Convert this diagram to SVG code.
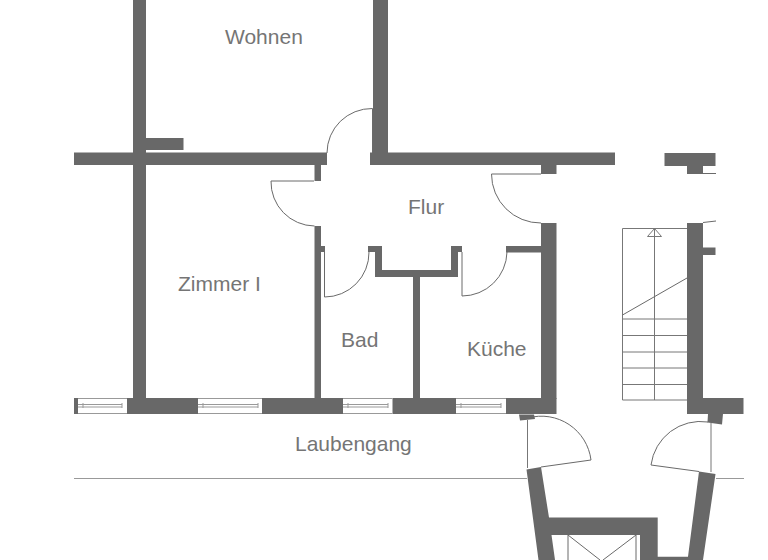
<svg xmlns="http://www.w3.org/2000/svg" width="768" height="560" viewBox="0 0 768 560">
<style>
.w{fill:#686868;stroke:none}
.l{fill:none;stroke:#6a6a6a;stroke-width:1}
.g{fill:none;stroke:#999999;stroke-width:1}
.s{fill:none;stroke:#777777;stroke-width:1}
.t{font-family:"Liberation Sans",Arial,sans-serif;font-size:21px;fill:#757575}
</style>
<rect width="768" height="560" fill="#ffffff"/>
<g id="walls">
<rect class="w" x="133" y="0" width="13" height="399"/>
<rect class="w" x="146" y="138" width="37.500" height="12"/>
<rect class="w" x="74" y="152.500" width="253" height="12.500"/>
<rect class="w" x="314.500" y="165" width="6.500" height="16"/>
<rect class="w" x="314.500" y="226" width="6.500" height="173"/>
<rect class="w" x="321" y="246" width="4" height="6"/>
<rect class="w" x="373" y="0" width="15" height="153"/>
<rect class="w" x="370" y="152.500" width="245" height="12.500"/>
<rect class="w" x="541" y="165" width="15.500" height="9"/>
<rect class="w" x="541" y="223" width="15.500" height="176"/>
<rect class="w" x="506" y="246" width="35" height="6.500"/>
<path class="w" d="M368 246H382V270H451V246H462V252H458V277H420V399H413V277H375V252H368Z"/>
<rect class="w" x="74" y="398" width="4" height="16"/>
<rect class="w" x="127" y="398" width="71" height="16"/>
<rect class="w" x="262" y="398" width="81" height="16"/>
<rect class="w" x="392.500" y="398" width="63.500" height="16"/>
<rect class="w" x="506" y="398" width="50.500" height="16"/>
<path class="w" d="M519 414.500H534L535 419L520 420.500Z"/>
<path class="w" d="M526.500 469.500L541 467L549 517.500H657.700V556.700H688L699 471.500L715.500 474L703 560H640V535H551.500L555 560H538.500Z"/>
<rect class="w" x="664.500" y="153" width="51" height="13"/>
<rect class="w" x="687" y="166" width="16" height="8"/>
<rect class="w" x="687" y="223" width="16" height="176"/>
<rect class="w" x="703" y="247.500" width="12.500" height="7.500"/>
<rect class="w" x="687" y="398" width="56.500" height="16"/>
<path class="w" d="M708 414H723L722 424.500L707.500 422.500Z"/>
</g>
<g id="windows">
<path class="g" d="M78 398.500H127M78 413.500H127M78 404.500H122M78 407H122M83 403V408M122 403V408"/>
<path class="g" d="M198 398.500H262M198 413.500H262M198 404.500H258M198 407H258M203 403V408M258 403V408"/>
<path class="g" d="M343 398.500H392.500M343 413.500H392.500M343 404.500H388M343 407H388M348 403V408M388 403V408"/>
<path class="g" d="M456 398.500H506M456 413.500H506M456 404.500H501M456 407H501M461 403V408M501 403V408"/>
</g>
<g id="doors">
<path class="l" d="M372.500 153V108.500A45 45 0 0 0 327 153"/>
<path class="l" d="M314 181H271A44 44 0 0 0 314.500 226"/>
<path class="l" d="M491.500 174H541M491.500 174A49 49 0 0 0 541 223"/>
<path class="l" d="M324.500 252V297A44.500 44.500 0 0 0 369 252"/>
<path class="l" d="M462 252V296A45 45 0 0 0 507 252"/>
<path class="s" d="M527.500 420V468"/>
<path class="l" d="M528 418A50 50 0 0 1 591 460L541 467"/>
<path class="s" d="M711 423V472"/>
<path class="l" d="M708 422A50 50 0 0 0 651 465L699 471.500"/>
<path class="l" d="M703 173.500H716M703 222.500L716 221"/>
</g>
<g id="stairs">
<path class="s" d="M687 228.500H622.500V400H687M654.500 228.500V400M622.500 319H687M622.500 335.500H687M622.500 352H687M622.500 368H687M622.500 384.500H687"/>
<path class="l" d="M622.500 315L687 278"/>
<path class="s" d="M654.500 228.500L647.500 236.500H661.500Z"/>
</g>
<g id="lift">
<path class="l" d="M568 535V560M636 535V560M568 535L600 560M636 535L603 560"/>
</g>
<g id="gallery">
<path class="g" d="M74 478.500H527M716 478.500H744"/>
</g>
<g id="labels">
<text class="t" x="225" y="44">Wohnen</text>
<text class="t" x="408" y="214">Flur</text>
<text class="t" x="178" y="291">Zimmer I</text>
<text class="t" x="341" y="347">Bad</text>
<text class="t" x="467" y="356">Küche</text>
<text class="t" x="295" y="451">Laubengang</text>
</g>
</svg>
